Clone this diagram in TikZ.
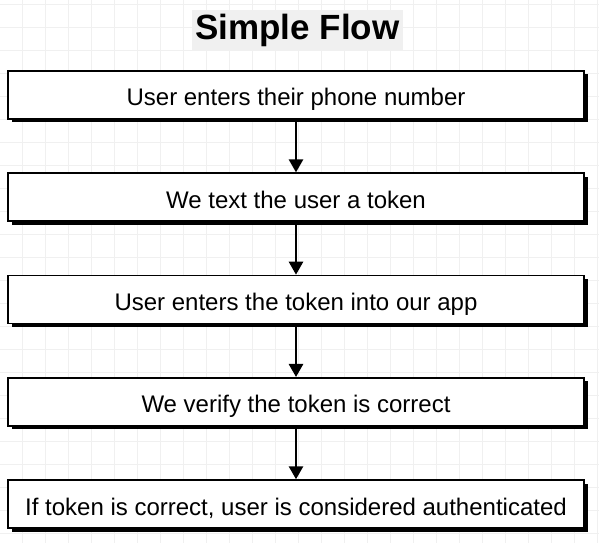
\documentclass[tikz,border=0pt]{standalone}
\usepackage{fontspec}
\setmainfont{Liberation Sans}
\usetikzlibrary{positioning,arrows.meta,shadows}

\begin{document}
\begin{tikzpicture}[x=1pt, y=1pt,
  stepbox/.style={draw, line width=1.8pt, fill=white, minimum width=576pt,
    minimum height=48pt, inner sep=0pt, text height=22pt, text depth=0pt,
    font=\fontsize{24}{28}\selectfont,
    drop shadow={shadow xshift=3.5pt, shadow yshift=-3.5pt, fill=black, opacity=1}},
  flow/.style={line width=2.6pt, -{Triangle[width=14pt,length=13pt]}},
  node distance=52.5pt]
\useasboundingbox (0,0) rectangle (599,543);
\fill[white] (0,0) rectangle (599,543);
\foreach \x in {22,45,...,598} \draw[black!6, line width=0.8pt] (\x,0) -- (\x,543);
\foreach \y in {4,27,...,542} \draw[black!6, line width=0.8pt] (0,543-\y) -- (599,543-\y);

\node[fill=black!6, minimum width=209pt, minimum height=40pt,
  font=\bfseries\fontsize{35}{40}\selectfont] (title) at (297.5,513) {Simple Flow};

\node[stepbox] (phone) at (296,448) {User enters their phone number};
\node[stepbox, below=of phone] (sms) {We text the user a token};
\node[stepbox, below=of sms] (entry) {User enters the token into our app};
\node[stepbox, below=of entry] (verify) {We verify the token is correct};
\node[stepbox, below=of verify] (auth) {If token is correct, user is considered authenticated};

\draw[flow] (phone) -- (sms);
\draw[flow] (sms) -- (entry);
\draw[flow] (entry) -- (verify);
\draw[flow] (verify) -- (auth);
\end{tikzpicture}
\end{document}
